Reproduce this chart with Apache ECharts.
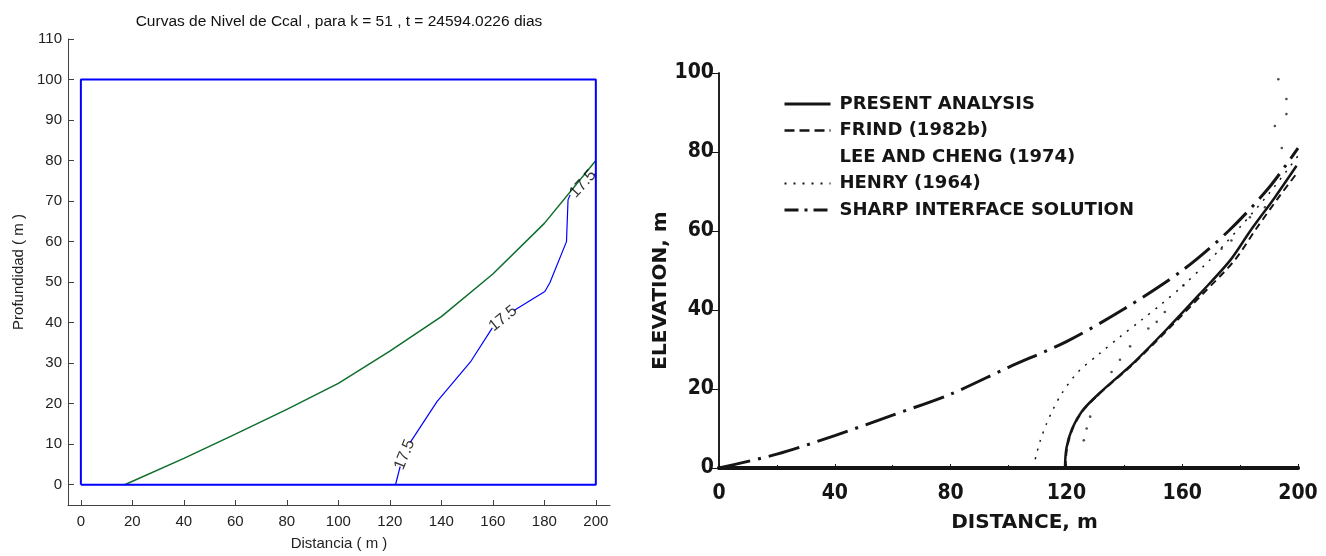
<!DOCTYPE html>
<html>
<head>
<meta charset="utf-8">
<title>Curvas de Nivel de Ccal</title>
<script src="https://cdn.jsdelivr.net/npm/echarts@6.0.0/dist/echarts.min.js"></script>
<style>
html, body { margin: 0; padding: 0; background: #fff; }
#main { width: 1326px; height: 556px; }
</style>
</head>
<body>
<div id="main"></div>
<script>
// ---- panel izquierdo: curvas de nivel de Ccal ----
var ticksX = [0, 20, 40, 60, 80, 100, 120, 140, 160, 180, 200];
var ticksY = [0, 10, 20, 30, 40, 50, 60, 70, 80, 90, 100, 110];
var dominio = [[0, 0], [200, 0], [200, 100], [0, 100], [0, 0]];
var interfaz = [[17, 0], [40, 6.5], [60, 12.5], [80, 18.6], [100, 25], [120, 33], [140, 41.5], [160, 52], [180, 64.5], [200, 80]];
var contorno1 = [[122.2, 0], [124, 4.5]];
var contorno2 = [[128, 10.5], [138.3, 20.5], [151.3, 30.3], [159.8, 38.7]];
var contorno3 = [[168.2, 43], [180.2, 47.7], [182.1, 49.8], [188.6, 60], [189.2, 70.3], [190, 71.5]];
var contorno4 = [[199.4, 76.3], [200, 77]];
var etiquetas = [[125.8, 7.4], [164, 41], [195, 74.2]];
var etiquetaAngulo = [68, 39, 48];
var nivel = '17.5';

// ---- panel derecho: figura escaneada ----
var presentAnalysis = [[119.5, 0], [120, 5], [122, 10], [125.5, 14.5], [131.5, 19], [143, 26.5], [154.5, 35], [166, 44], [176.5, 52.5], [183.5, 60], [192, 68.5], [199.5, 76.5]];
var frind = [[119.7, 0], [120.2, 5], [122.2, 10], [125.7, 14.5], [131.7, 19], [143.3, 26.5], [155, 35], [167, 44], [178, 52.5], [185.5, 60.5], [193.8, 69], [200, 75]];
var leeCheng = [[126, 7], [127, 10], [128.2, 13], [131, 18.5], [135.6, 24.3], [138.5, 27.4], [142, 30.8], [148.3, 35.3], [151.2, 37], [154, 39.5], [160.4, 46.2], [173.6, 55.5], [177, 57.6], [183.4, 63.5], [188.6, 66], [194.4, 81], [192, 86.6], [196, 89.6], [196, 93.4], [193.2, 98.4]];
var henry = [[108.5, 0], [109.5, 3], [111, 7], [113, 11], [115.5, 15], [118.5, 19], [124, 24.3], [131.5, 29], [138.5, 33.2], [146, 37.5], [153, 41.6], [160, 46], [170, 53], [180, 61], [190, 69.5], [200, 79]];
var sharp = [[0, 0], [20, 3.5], [40, 8.2], [60, 13.4], [80, 18.7], [100, 25.5], [120, 32], [140, 40.3], [160, 50], [176, 60], [190, 71], [200, 81]];
var nombres = ['PRESENT ANALYSIS', 'FRIND (1982b)', 'LEE AND CHENG (1974)', 'HENRY (1964)', 'SHARP INTERFACE SOLUTION'];

var fIzq = 'Liberation Sans, Arial, sans-serif';
var fNum = '"Liberation Sans Narrow", "DejaVu Sans Condensed", sans-serif';
var fTxt = '"DejaVu Sans", sans-serif';
var tinta = '#151515';

var chart = echarts.init(document.getElementById('main'));

function contorno(d) {
  return { type: 'line', xAxisIndex: 0, yAxisIndex: 0, data: d, symbol: 'none',
    lineStyle: { color: '#0000ff', width: 1.2 }, z: 3 };
}
function curva(name, d, style) {
  return { name: name, type: 'line', xAxisIndex: 1, yAxisIndex: 1, data: d, symbol: 'none',
    smooth: 0.3, lineStyle: style, itemStyle: { color: tinta } };
}

chart.setOption({
  animation: false,
  title: {
    text: 'Curvas de Nivel de Ccal , para k = 51 , t = 24594.0226 dias',
    left: 334, top: 9, textAlign: 'center',
    textStyle: { fontFamily: fIzq, fontSize: 15.5, fontWeight: 'normal', color: '#111' }
  },
  legend: {
    orient: 'vertical', left: 778, top: 90, itemWidth: 46, itemHeight: 14, itemGap: 8.5,
    itemStyle: { opacity: 0 },
    textStyle: { fontFamily: fTxt, fontWeight: 'bold', fontSize: 18, color: tinta, padding: [0, 0, 0, 4] },
    data: [
      { name: nombres[0], lineStyle: { width: 3 } },
      { name: nombres[1], lineStyle: { width: 2.5, type: [10, 5] } },
      { name: nombres[2] },
      { name: nombres[3] },
      { name: nombres[4], lineStyle: { width: 3, type: [14, 6, 3, 6] } }
    ]
  },
  grid: [
    { left: 68, top: 39, width: 542, height: 468 },
    { left: 719, top: 73, width: 579, height: 395 }
  ],
  xAxis: [
    {
      gridIndex: 0, type: 'value', min: -5, max: 205.5,
      axisLine: { onZero: false, lineStyle: { color: '#404040', width: 1 } },
      axisTick: { inside: true, length: 5, customValues: ticksX, lineStyle: { color: '#404040' } },
      axisLabel: { customValues: ticksX, fontFamily: fIzq, fontSize: 15, color: '#222', margin: 9 },
      splitLine: { show: false },
      name: 'Distancia ( m )', nameLocation: 'middle', nameGap: 31,
      nameTextStyle: { fontFamily: fIzq, fontSize: 15, color: '#222' }
    },
    {
      gridIndex: 1, type: 'value', min: 0, max: 200, interval: 40,
      axisLine: { lineStyle: { color: tinta, width: 3.5 } },
      axisTick: { inside: true, length: 4, lineStyle: { color: tinta } },
      minorTick: { show: true, splitNumber: 2, length: 3, lineStyle: { color: tinta } },
      axisLabel: { fontFamily: fNum, fontSize: 21, fontWeight: 'bold', color: tinta, margin: 15 },
      splitLine: { show: false },
      name: 'DISTANCE, m', nameLocation: 'middle', nameGap: 45,
      nameTextStyle: { fontFamily: fTxt, fontSize: 20, fontWeight: 'bold', color: tinta, padding: [0, 0, 0, 32] }
    },
    {
      gridIndex: 1, type: 'value', min: 0, max: 200, position: 'top',
      axisLine: { lineStyle: { color: tinta, width: 4 } },
      axisTick: { show: false }, axisLabel: { show: false }, splitLine: { show: false }
    }
  ],
  yAxis: [
    {
      gridIndex: 0, type: 'value', min: -5, max: 110,
      axisLine: { onZero: false, lineStyle: { color: '#404040', width: 1 } },
      axisTick: { inside: true, length: 6, customValues: ticksY, lineStyle: { color: '#404040' } },
      axisLabel: { customValues: ticksY, fontFamily: fIzq, fontSize: 15, color: '#222', margin: 6 },
      splitLine: { show: false },
      name: 'Profundidad ( m )', nameLocation: 'middle', nameGap: 42,
      nameTextStyle: { fontFamily: fIzq, fontSize: 15, color: '#222' }
    },
    {
      gridIndex: 1, type: 'value', min: 0, max: 100, interval: 20,
      axisLine: { lineStyle: { color: tinta, width: 1.5 } },
      axisTick: { length: 5, lineStyle: { color: tinta } },
      axisLabel: { fontFamily: fNum, fontSize: 21, fontWeight: 'bold', color: tinta, margin: 5 },
      splitLine: { show: false },
      name: 'ELEVATION, m', nameLocation: 'middle', nameGap: 48,
      nameTextStyle: { fontFamily: fTxt, fontSize: 20, fontWeight: 'bold', color: tinta, padding: [0, 40, 0, 0] }
    },
    {
      gridIndex: 1, type: 'value', min: 0, max: 100, interval: 20, position: 'right',
      axisLine: { lineStyle: { color: tinta, width: 1.5 } },
      axisTick: { inside: true, length: 7, lineStyle: { color: tinta } },
      axisLabel: { show: false }, splitLine: { show: false }
    }
  ],
  series: [
    { type: 'line', xAxisIndex: 0, yAxisIndex: 0, data: dominio, symbol: 'none',
      lineStyle: { color: '#0000ff', width: 2 }, z: 4 },
    { type: 'line', xAxisIndex: 0, yAxisIndex: 0, data: interfaz, symbol: 'none',
      lineStyle: { color: '#0e6e2c', width: 1.5 }, z: 3 },
    contorno(contorno1), contorno(contorno2), contorno(contorno3), contorno(contorno4),
    { type: 'scatter', xAxisIndex: 0, yAxisIndex: 0, symbolSize: 1,
      itemStyle: { color: 'rgba(0,0,0,0)' }, z: 5,
      data: etiquetas.map(function (p, i) {
        return { value: p, label: { rotate: etiquetaAngulo[i] } };
      }),
      label: { show: true, position: 'inside', formatter: nivel, fontFamily: fIzq, fontSize: 16, color: '#000' } },

    curva(nombres[0], presentAnalysis, { color: tinta, width: 2.5 }),
    curva(nombres[1], frind, { color: tinta, width: 2, type: [7, 5] }),
    { name: nombres[2], type: 'scatter', xAxisIndex: 1, yAxisIndex: 1, data: leeCheng,
      symbolSize: 2.6, itemStyle: { color: '#222' } },
    curva(nombres[3], henry, { color: tinta, width: 1.5, type: [2, 7] }),
    curva(nombres[4], sharp, { color: tinta, width: 3, type: [32, 8, 3, 8] })
  ]
});
</script>
</body>
</html>
